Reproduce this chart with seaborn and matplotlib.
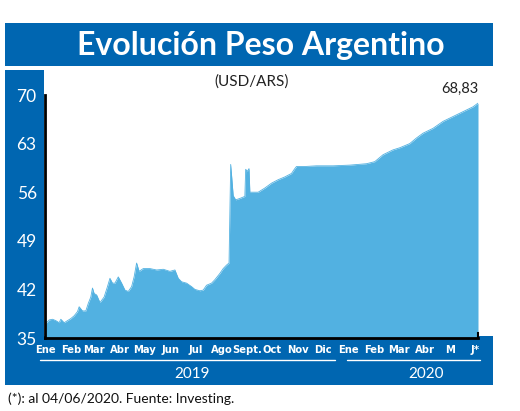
import matplotlib
matplotlib.use('Agg')
import matplotlib.pyplot as plt
import matplotlib.patches as mpatches
from matplotlib.lines import Line2D
from matplotlib import font_manager
import pandas as pd
import seaborn as sns

# Data (USD/ARS)
fechas = [
    '2019-01-01', '2019-01-02', '2019-01-06', '2019-01-10', '2019-01-14', '2019-01-18',
    '2019-01-20', '2019-01-24', '2019-01-28', '2019-02-01', '2019-02-05', '2019-02-09',
    '2019-02-11', '2019-02-15', '2019-02-19', '2019-02-22', '2019-02-25', '2019-02-27',
    '2019-03-01', '2019-03-04', '2019-03-08', '2019-03-13', '2019-03-17', '2019-03-20',
    '2019-03-23', '2019-03-26', '2019-03-30', '2019-04-03', '2019-04-07', '2019-04-11',
    '2019-04-15', '2019-04-18', '2019-04-21', '2019-04-24', '2019-04-29', '2019-05-07',
    '2019-05-15', '2019-05-23', '2019-05-31', '2019-06-06', '2019-06-10', '2019-06-14',
    '2019-06-20', '2019-06-26', '2019-06-30', '2019-07-06', '2019-07-10', '2019-07-14',
    '2019-07-20', '2019-07-24', '2019-07-30', '2019-08-03', '2019-08-07', '2019-08-10',
    '2019-08-12', '2019-08-15', '2019-08-18', '2019-08-23', '2019-08-29', '2019-08-30',
    '2019-09-01', '2019-09-03', '2019-09-04', '2019-09-14', '2019-09-22', '2019-09-30',
    '2019-10-08', '2019-10-16', '2019-10-24', '2019-10-28', '2019-10-30', '2019-11-09',
    '2019-11-23', '2019-12-13', '2020-01-02', '2020-01-22', '2020-02-01', '2020-02-11',
    '2020-02-23', '2020-03-02', '2020-03-14', '2020-03-22', '2020-03-30', '2020-04-11',
    '2020-04-23', '2020-05-05', '2020-05-17', '2020-05-29', '2020-06-04',
]
valores = [
    36.8, 37.1, 37.6, 37.7, 37.5, 37.2,
    37.7, 37.2, 37.5, 37.8, 38.2, 38.8,
    39.5, 38.9, 38.9, 40.0, 40.9, 42.2,
    41.4, 41.2, 40.1, 40.9, 42.4, 43.6,
    42.9, 42.9, 43.8, 42.9, 41.9, 41.7,
    42.4, 43.8, 45.8, 44.6, 45.0, 45.0,
    44.8, 44.9, 44.6, 44.8, 43.6, 43.1,
    42.9, 42.4, 42.0, 41.8, 41.9, 42.6,
    42.9, 43.4, 44.3, 45.0, 45.5, 45.8,
    60.0, 55.5, 54.9, 55.1, 55.4, 59.3,
    59.0, 59.4, 56.0, 56.0, 56.6, 57.3,
    57.8, 58.2, 58.7, 59.4, 59.7, 59.7,
    59.8, 59.8, 59.9, 60.1, 60.4, 61.4,
    62.1, 62.4, 63.0, 63.8, 64.5, 65.2,
    66.2, 66.9, 67.6, 68.3, 68.83,
]
meses = ['Ene', 'Feb', 'Mar', 'Abr', 'May', 'Jun', 'Jul', 'Ago', 'Sept.', 'Oct',
         'Nov', 'Dic', 'Ene', 'Feb', 'Mar', 'Abr', 'M', 'J*']
yticks = [35, 42, 49, 56, 63, 70]
ultimo = '68,83'

df = pd.DataFrame({'fecha': pd.to_datetime(fechas), 'valor': valores})

AZUL = '#0066B1'
CELESTE = '#52B1E1'

sns.set_style('white')
nombres = {f.name for f in font_manager.fontManager.ttflist}
fuente = 'Lato' if 'Lato' in nombres else 'DejaVu Sans'
plt.rcParams['font.family'] = [fuente, 'DejaVu Sans']

W, H = 520, 411
fig = plt.figure(figsize=(W / 100, H / 100), dpi=100)
fig.patch.set_facecolor('white')


def rect(x0, y0, x1, y1):
    # pixel box (top-left origin) -> figure rectangle
    fig.add_artist(mpatches.Rectangle((x0 / W, 1 - y1 / H), (x1 - x0) / W, (y1 - y0) / H,
                                      transform=fig.transFigure, color=AZUL, lw=0, zorder=0))


rect(5, 23, 493, 66)     # title bar
rect(5, 70, 44, 385)     # left column
rect(5, 336, 493, 385)   # bottom strip

ax = fig.add_axes([45 / W, 1 - 338 / H, (478 - 45) / W, (338 - 95) / H])
ax.set_facecolor('white')

sns.lineplot(data=df, x='fecha', y='valor', ax=ax, color=CELESTE, lw=0.6)
ax.fill_between(df['fecha'], valores, 35, color=CELESTE, lw=0)

ax.set_xlim(pd.Timestamp('2019-01-01'), pd.Timestamp('2020-06-04'))
ax.set_ylim(35, 70)
ax.set_xlabel('')
ax.set_ylabel('')

ax.set_yticks(yticks)
ax.set_yticklabels([str(v) for v in yticks])
ax.tick_params(axis='y', direction='in', length=8, width=1.6, color='black',
               labelcolor='white', labelsize=12.5, pad=6)

ticks_x = pd.date_range('2019-01-01', '2020-06-01', freq='MS')
ax.set_xticks(ticks_x)
ax.set_xticklabels(meses)
ax.tick_params(axis='x', length=0, labelcolor='white', labelsize=8, pad=5)
for t in ax.get_xticklabels():
    t.set_family(['DejaVu Sans'])
    t.set_stretch('condensed')
    t.set_weight('bold')

for s in ['top']:
    ax.spines[s].set_visible(False)
ax.spines['left'].set_color('black')
ax.spines['left'].set_linewidth(2)
ax.spines['bottom'].set_color('black')
ax.spines['bottom'].set_linewidth(2)
ax.spines['right'].set_bounds(35, 35.7)
ax.spines['right'].set_linewidth(1.5)
ax.spines['right'].set_color('black')

# titles and notes
fig.text(261 / W, 1 - 45 / H, 'Evolución Peso Argentino', color='white', fontsize=23,
         fontweight='bold', ha='center', va='center')
fig.text(252 / W, 1 - 82 / H, '(USD/ARS)', color='#222222', fontsize=11, ha='center', va='center')
ax.annotate(ultimo, xy=(df['fecha'].iloc[-1], valores[-1]), xytext=(0, 5),
            textcoords='offset points', ha='right', va='bottom', fontsize=10.5, color='#222222')

# year underlines and labels
fig.add_artist(Line2D([40 / W, 335 / W], [1 - 360 / H] * 2, color='white', lw=1))
fig.add_artist(Line2D([347 / W, 480 / W], [1 - 360 / H] * 2, color='white', lw=1))
fig.text(192 / W, 1 - 374 / H, '2019', color='white', fontsize=11, ha='center', va='center')
fig.text(426 / W, 1 - 374 / H, '2020', color='white', fontsize=11, ha='center', va='center')

fig.text(8 / W, 1 - 399 / H, '(*): al 04/06/2020. Fuente: Investing.', color='#111111',
         fontsize=10, ha='left', va='center')

fig.savefig('out.png', dpi=100)
